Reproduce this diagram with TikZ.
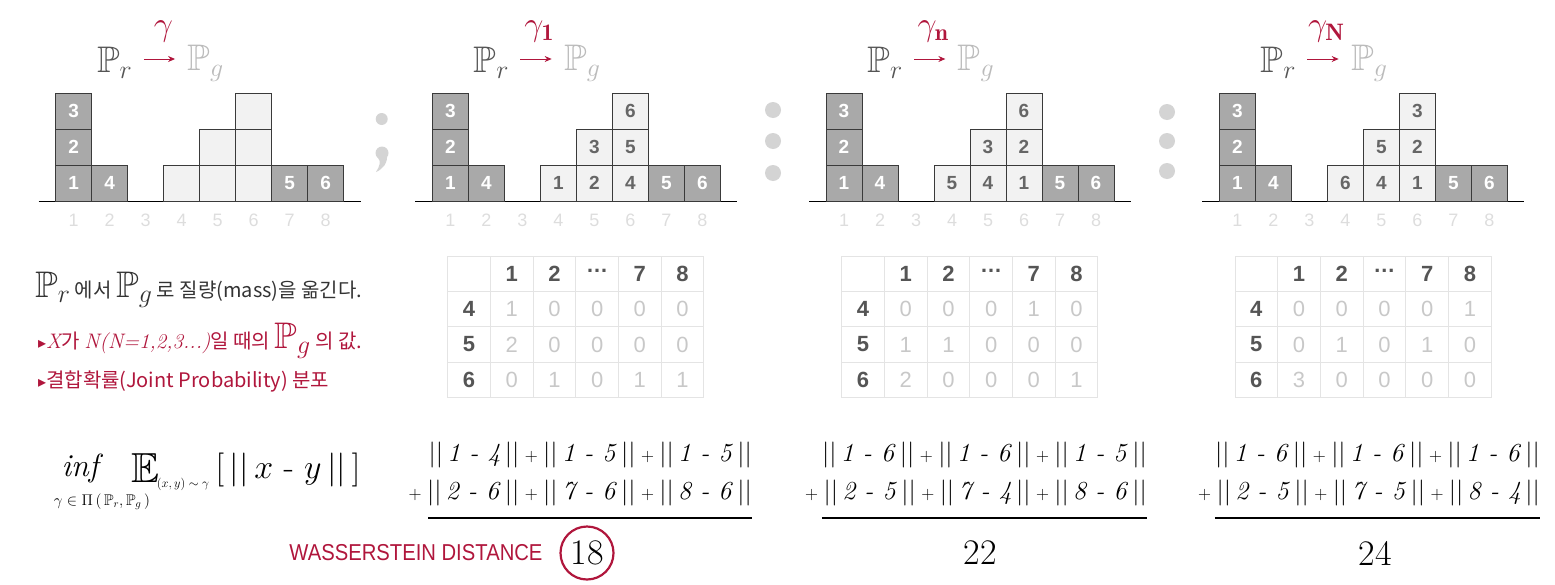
\RequirePackage{fix-cm}
\documentclass[tikz,border=0pt]{standalone}
\usepackage{amssymb}
\usepackage{amsmath}
\usepackage{fontspec}
\usetikzlibrary{arrows.meta}
\DeclareFontFamily{U}{msb}{}
\DeclareFontShape{U}{msb}{m}{n}{<-6> msbm5 <6-8> msbm7 <8-> msbm10}{}
\newfontfamily\hv{Liberation Sans}
\newfontfamily\kr{Noto Sans CJK KR}
\newfontfamily\djv{DejaVu Sans}
\definecolor{wine}{HTML}{B0163C}
\definecolor{boxdark}{HTML}{A9A9A9}
\definecolor{boxlight}{HTML}{F2F2F2}
\definecolor{boxline}{HTML}{3A3A3A}
\definecolor{numgray}{HTML}{666666}
\definecolor{tickgray}{HTML}{DDDDDD}
\definecolor{prgray}{HTML}{555555}
\definecolor{pggray}{HTML}{BBBBBB}
\definecolor{dotgray}{HTML}{D4D4D4}
\definecolor{gridgray}{HTML}{E4E4E4}
\definecolor{headgray}{HTML}{555555}
\definecolor{entrygray}{HTML}{C8C8C8}
\definecolor{textdark}{HTML}{333333}
\newcommand\fsz[1]{\fontsize{#1}{#1}\selectfont}
\newcommand\nrm[2]{$\lvert\lvert\,$\textit{#1 - #2}$\,\rvert\rvert$}
\newcommand\pl{{\fsz{18}\ +\ }}
\newcommand\ser[1]{{\rmfamily\itshape\fsz{21}#1}}

\begin{document}
\begin{tikzpicture}[x=1pt, y=-1pt,
        darkbox/.style={draw=boxline, fill=boxdark, line width=0.8pt, minimum size=36pt, inner sep=0pt, text=white, font=\hv\bfseries\fsz{19}},
        lightbox/.style={draw=boxline, fill=boxlight, line width=0.8pt, minimum size=36pt, inner sep=0pt, text=numgray, font=\hv\bfseries\fsz{19}},
        tick/.style={text=tickgray, font=\hv\fsz{18}},
        cell/.style={draw=gridgray, line width=1pt, minimum width=42.7pt, minimum height=35.4pt, inner sep=0pt},
        head/.style={cell, text=headgray, font=\hv\bfseries\fsz{22}},
        entry/.style={cell, text=entrygray, font=\hv\fsz{22}},
        dot/.style={circle, fill=dotgray, minimum size=16pt, inner sep=0pt},
        sumline/.style={inner sep=0pt, font=\fsz{26}},
        result/.style={font=\fsz{36}},
        gamarrow/.style={draw=wine, line width=1pt, shorten <=8pt, shorten >=9pt, -{Stealth[length=7pt, width=6pt]}}]
    \useasboundingbox (0,0) rectangle (1555,584);

    % four histogram panels
    \foreach \L/\a/\b/\c/\d/\e/\f/\g [count=\p] in {55.7/{}/{}/{}/{}/{}/{}/{}, 432.3/1/2/3/4/5/6/{\mathbf{1}}, 826/5/4/3/1/2/6/{\mathbf{n}}, 1219.3/6/4/5/1/2/3/{\mathbf{N}}} {
        \node[text=prgray, font=\fsz{37}] (pr\p) at (\L+59, 63) {$\mathbb{P}_r$};
        \node[text=pggray, font=\fsz{37}] (pg\p) at (\L+150, 63) {$\mathbb{P}_g$};
        \draw ([yshift=4pt]pr\p.east) edge[gamarrow] ([yshift=4pt]pg\p.west);
        \node[text=wine, font=\fsz{34}] (gam\p) at (\L+107, 31) {$\gamma_{\g}$};

        \draw[line width=1pt] (\L-17, 201) -- (\L+305, 201);
        \foreach \i in {1,...,8}
            \node[tick] (tk\p-\i) at (\L+36*\i-18, 220) {\i};

        \foreach \col/\row/\n in {1/1/1, 1/2/2, 1/3/3, 2/1/4, 7/1/5, 8/1/6}
            \node[darkbox] (dk\p-\n) at (\L+36*\col-18, 219-36*\row) {\n};

        \node[lightbox] (lt\p-a) at (\L+126, 183) {\a};
        \node[lightbox] (lt\p-b) at (\L+162, 183) {\b};
        \node[lightbox] (lt\p-c) at (\L+162, 147) {\c};
        \node[lightbox] (lt\p-d) at (\L+198, 183) {\d};
        \node[lightbox] (lt\p-e) at (\L+198, 147) {\e};
        \node[lightbox] (lt\p-f) at (\L+198, 111) {\f};
    }

    % separators
    \fill[dotgray] (381.7, 119) circle (6);
    \fill[dotgray] (382, 153) circle (6.5)
        (387, 154) .. controls (388, 163) and (383, 169) .. (376, 172)
        .. controls (380, 166) and (381, 161) .. (378, 158) -- cycle;
    \node[dot] (sepB1) at (773, 110) {};
    \node[dot] (sepB2) at (773, 141) {};
    \node[dot] (sepB3) at (773, 173) {};
    \node[dot] (sepC1) at (1167, 112) {};
    \node[dot] (sepC2) at (1167, 141) {};
    \node[dot] (sepC3) at (1167, 171) {};

    % joint probability tables
    \foreach \L/\rows [count=\t] in {447.7/{4/1/0/0/0/0, 5/2/0/0/0/0, 6/0/1/0/1/1}, 841.7/{4/0/0/0/1/0, 5/1/1/0/0/0, 6/2/0/0/0/1}, 1235/{4/0/0/0/0/1, 5/0/1/0/1/0, 6/3/0/0/0/0}} {
        \node[head] (tb\t-0-0) at (\L+21.35, 273.7) {};
        \foreach \h [count=\j] in {1,2,{\raisebox{0.22em}{…}},7,8}
            \node[head] (tb\t-0-\j) at (\L+21.35+42.7*\j, 273.7) {\h};
        \foreach \rw/\va/\vb/\vc/\vd/\ve [count=\i] in \rows {
            \node[head] (tb\t-\i-0) at (\L+21.35, 273.7+35.4*\i) {\rw};
            \node[entry] (tb\t-\i-1) at (\L+64.05, 273.7+35.4*\i) {\va};
            \node[entry] (tb\t-\i-2) at (\L+106.75, 273.7+35.4*\i) {\vb};
            \node[entry] (tb\t-\i-3) at (\L+149.45, 273.7+35.4*\i) {\vc};
            \node[entry] (tb\t-\i-4) at (\L+192.15, 273.7+35.4*\i) {\vd};
            \node[entry] (tb\t-\i-5) at (\L+234.85, 273.7+35.4*\i) {\ve};
        }
    }

    % left notes
    \node[anchor=base west, inner sep=0pt, text=textdark, font=\kr\fsz{20}] (noteA) at (35, 297)
        {{\fsz{37}$\mathbb{P}_r$} 에서 {\fsz{37}$\mathbb{P}_g$} 로 질량(mass)을 옮긴다.};
    \node[anchor=base west, inner sep=0pt, text=wine, font=\kr\fsz{20}] (noteB) at (38, 348)
        {{\djv\fsz{16}▸}\ser{X}가 \ser{N(N=1,2,3...)}일 때의 {\fsz{37}$\mathbb{P}_g$} 의 값.};
    \node[anchor=base west, inner sep=0pt, text=wine, font=\kr\fsz{20}] (noteC) at (38, 387)
        {{\djv\fsz{16}▸}결합확률(Joint Probability) 분포};

    % objective
    \node[font=\fsz{32}] (inf) at (80, 468) {$\mathit{inf}$};
    \node[font=\fsz{15.5}] (infsub) at (102, 502) {$\gamma \in \Pi\,(\,\mathbb{P}_r, \mathbb{P}_g\,)$};
    \node[font=\fsz{42}] (expE) at (145, 468) {$\mathbb{E}$};
    \node[font=\fsz{12.5}] (expsub) at (183, 484) {$(x, y) \sim \gamma$};
    \node[font=\fsz{34}] (exparg) at (288, 470) {$[\,\lvert\lvert\, x$ - $y \,\rvert\rvert\,]$};

    % transport costs
    \node[sumline, anchor=east] (sA1) at (752, 455) {\nrm{1}{4}\pl\nrm{1}{5}\pl\nrm{1}{5}};
    \node[sumline, anchor=east] (sA2) at (752, 493) {\pl\nrm{2}{6}\pl\nrm{7}{6}\pl\nrm{8}{6}};
    \draw[line width=1.5pt] (sA1.west |- 0, 518) -- (752, 518);
    \node[sumline, anchor=east] (sB1) at (1147, 455) {\nrm{1}{6}\pl\nrm{1}{6}\pl\nrm{1}{5}};
    \node[sumline, anchor=east] (sB2) at (1147, 493) {\pl\nrm{2}{5}\pl\nrm{7}{4}\pl\nrm{8}{6}};
    \draw[line width=1.5pt] (sB1.west |- 0, 518) -- (1147, 518);
    \node[sumline, anchor=east] (sC1) at (1540, 455) {\nrm{1}{6}\pl\nrm{1}{6}\pl\nrm{1}{6}};
    \node[sumline, anchor=east] (sC2) at (1540, 493) {\pl\nrm{2}{5}\pl\nrm{7}{5}\pl\nrm{8}{4}};
    \draw[line width=1.5pt] (sC1.west |- 0, 518) -- (1540, 518);

    % distances
    \node[anchor=east, text=wine, font=\hv\fsz{23}] (wdist) at (546, 553) {\scalebox{0.88}[1]{WASSERSTEIN DISTANCE}};
    \node[result, circle, draw=wine, line width=2.2pt, minimum size=53pt, inner sep=0pt] (dA) at (587, 553) {18};
    \node[result] (dB) at (980, 553) {22};
    \node[result] (dC) at (1375, 553) {24};
\end{tikzpicture}
\end{document}
